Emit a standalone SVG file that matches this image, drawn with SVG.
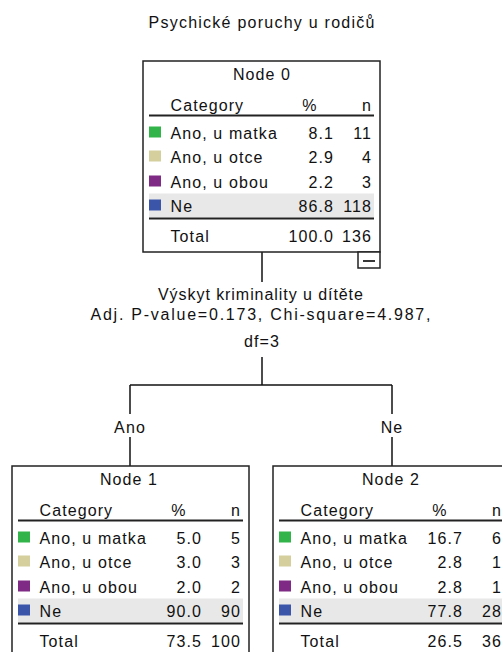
<svg xmlns="http://www.w3.org/2000/svg" width="502" height="652" viewBox="0 0 502 652">
<style>
text{font-family:"Liberation Sans",Arial,sans-serif;font-size:16px;fill:#111;letter-spacing:1.1px}
.c{text-anchor:middle}
.e{text-anchor:end}
.box{fill:#fff;stroke:#222;stroke-width:1.5}
.rule{stroke:#222;stroke-width:1.8}
.shade{fill:#e8e8e8}
.conn line{stroke:#111;stroke-width:1.5}
.g{fill:#33b44a}.t{fill:#d4cf9d}.p{fill:#7f2a84}.b{fill:#3b55a9}
</style>
<defs>
<g id="hdr">
<line class="rule" x1="6" y1="54.5" x2="231" y2="54.5"/>
<rect class="shade" x="6" y="132.5" width="225" height="24"/>
<line class="rule" x1="6" y1="157.5" x2="231" y2="157.5"/>
<rect class="g" x="6" y="65.5" width="12" height="11"/>
<rect class="t" x="6" y="89.5" width="12" height="11"/>
<rect class="p" x="6" y="114.5" width="12" height="11"/>
<rect class="b" x="6" y="138.5" width="12" height="11"/>
<text x="27.5" y="49.8">Category</text>
<text class="c" x="167" y="49.8">%</text>
<text class="e" x="229" y="49.8">n</text>
<text x="27.5" y="77.8">Ano, u matka</text>
<text x="27.5" y="101.8">Ano, u otce</text>
<text x="27.5" y="127">Ano, u obou</text>
<text x="27.5" y="151">Ne</text>
<text x="27.5" y="181">Total</text>
</g>
</defs>
<text class="c" x="262" y="28" textLength="227" lengthAdjust="spacing">Psychické poruchy u rodičů</text>

<g class="conn" id="connectors">
<line x1="262" y1="252" x2="262" y2="282"/>
<line x1="262" y1="357" x2="262" y2="385"/>
<line x1="130" y1="385" x2="392" y2="385"/>
<line x1="130" y1="385" x2="130" y2="414"/>
<line x1="392" y1="385" x2="392" y2="414"/>
<line x1="130" y1="437" x2="130" y2="466"/>
<line x1="392" y1="437" x2="392" y2="466"/>
<text class="c" x="130" y="432.7">Ano</text>
<text class="c" x="392" y="432.7">Ne</text>
</g>

<g id="split">
<text class="c" x="261" y="300" textLength="206" lengthAdjust="spacing">Výskyt kriminality u dítěte</text>
<text class="c" x="261" y="320" textLength="341" lengthAdjust="spacing">Adj. P-value=0.173, Chi-square=4.987,</text>
<text class="c" x="262" y="347">df=3</text>
</g>

<g id="node0" transform="translate(143,61)">
<rect class="box" x="0" y="0" width="237" height="191"/>
<use href="#hdr"/>
<text class="c" x="119" y="18.5">Node 0</text>
<text class="e" x="191" y="77.8">8.1</text><text class="e" x="229" y="77.8">11</text>
<text class="e" x="191" y="101.8">2.9</text><text class="e" x="229" y="101.8">4</text>
<text class="e" x="191" y="127">2.2</text><text class="e" x="229" y="127">3</text>
<text class="e" x="191" y="151">86.8</text><text class="e" x="229" y="151">118</text>
<text class="e" x="191" y="181">100.0</text><text class="e" x="229" y="181">136</text>
</g>
<g id="collapse">
<rect class="box" x="358" y="252" width="22" height="16"/>
<line class="rule" x1="363" y1="261" x2="375" y2="261" stroke-width="1.5"/>
</g>

<g id="node1" transform="translate(12,466)">
<rect class="box" x="0" y="0" width="237" height="200"/>
<use href="#hdr"/>
<text class="c" x="117" y="18.5">Node 1</text>
<text class="e" x="190" y="77.8">5.0</text><text class="e" x="229" y="77.8">5</text>
<text class="e" x="190" y="101.8">3.0</text><text class="e" x="229" y="101.8">3</text>
<text class="e" x="190" y="127">2.0</text><text class="e" x="229" y="127">2</text>
<text class="e" x="190" y="151">90.0</text><text class="e" x="229" y="151">90</text>
<text class="e" x="190" y="181">73.5</text><text class="e" x="229" y="181">100</text>
</g>

<g id="node2" transform="translate(273,466)">
<rect class="box" x="0" y="0" width="237" height="200"/>
<use href="#hdr"/>
<text class="c" x="118" y="18.5">Node 2</text>
<text class="e" x="190" y="77.8">16.7</text><text class="e" x="229" y="77.8">6</text>
<text class="e" x="190" y="101.8">2.8</text><text class="e" x="229" y="101.8">1</text>
<text class="e" x="190" y="127">2.8</text><text class="e" x="229" y="127">1</text>
<text class="e" x="190" y="151">77.8</text><text class="e" x="229" y="151">28</text>
<text class="e" x="190" y="181">26.5</text><text class="e" x="229" y="181">36</text>
</g>
</svg>
